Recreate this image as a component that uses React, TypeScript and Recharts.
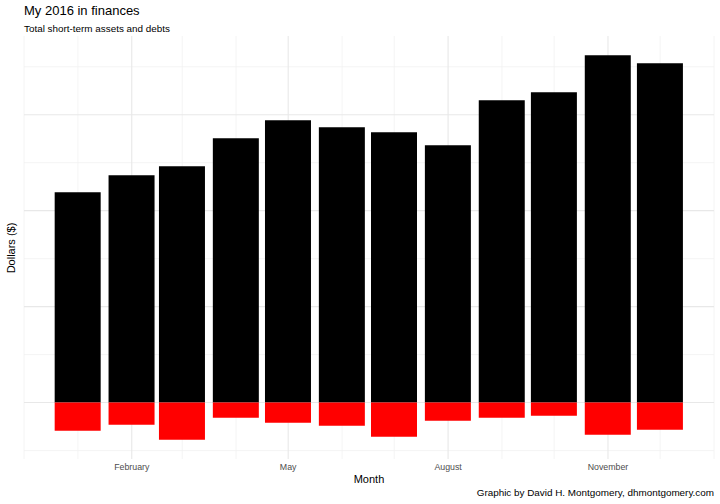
import {
  ComposedChart,
  Bar,
  XAxis,
  YAxis,
  CartesianGrid,
} from "recharts"

// day of year (2016) for the first of each month, Jan..Dec
const monthDays = [0, 31, 60, 91, 121, 152, 182, 213, 244, 274, 305, 335]
const assets = [21930, 23700, 24635, 27550, 29430, 28700, 28180, 26820, 31510, 32340, 36200, 35365]
const debts = [-2940, -2310, -3875, -1585, -2105, -2415, -3560, -1895, -1585, -1375, -3355, -2835]

const tickDays = [31, 121, 213, 305]
const tickLabels = ["February", "May", "August", "November"]

// minor grid: first of every other month (Dec 2015 .. Jan 2017)
const minorDays = [-31, 0, 60, 91, 152, 182, 244, 274, 335, 366]
const majorDollars = [0, 10000, 20000, 30000]
const minorDollars = [-5000, 5000, 15000, 25000, 35000]

const data = monthDays.map((day, i) => ({
  day,
  assets: assets[i],
  debts: debts[i],
}))

const font = "'Liberation Sans', Arial, Helvetica, sans-serif"

export default function App() {
  return (
    <div
      style={{
        position: "absolute",
        left: 0,
        top: 0,
        width: 720,
        height: 504,
        background: "#fff",
        fontFamily: font,
      }}
    >
      <ComposedChart
        width={720}
        height={504}
        data={data}
        stackOffset="sign"
        margin={{ top: 36, right: 6, left: 24, bottom: 15 }}
      >
        <CartesianGrid
          stroke="#f1f1f1"
          strokeWidth={0.8}
          horizontalValues={minorDollars}
          verticalValues={minorDays}
        />
        <CartesianGrid
          stroke="#e8e8e8"
          strokeWidth={1.1}
          horizontalValues={majorDollars}
          verticalValues={tickDays}
        />
        <XAxis
          dataKey="day"
          type="number"
          domain={[-31, 366]}
          ticks={tickDays}
          tickFormatter={(v: number) => tickLabels[tickDays.indexOf(v)]}
          axisLine={false}
          tickLine={false}
          tickSize={0}
          tickMargin={5}
          height={30}
          tick={{ fontSize: 8.8, fill: "#4d4d4d", fontFamily: font }}
          allowDataOverflow
        />
        <YAxis type="number" domain={[-5880, 38200]} hide allowDataOverflow />
        <Bar
          dataKey="assets"
          stackId="a"
          fill="#000000"
          barSize={46}
          isAnimationActive={false}
        />
        <Bar
          dataKey="debts"
          stackId="a"
          fill="#ff0000"
          barSize={46}
          isAnimationActive={false}
        />
      </ComposedChart>

      <svg
        width={720}
        height={504}
        style={{ position: "absolute", left: 0, top: 0, pointerEvents: "none" }}
        fontFamily={font}
      >
        <text x={24} y={15} fontSize={13} fill="#000">
          My 2016 in finances
        </text>
        <text x={24} y={32} fontSize={9.9} fill="#000">
          Total short-term assets and debts
        </text>
        <text x={369} y={483} fontSize={11} fill="#000" textAnchor="middle">
          Month
        </text>
        <text
          x={14.5}
          y={248}
          fontSize={11}
          fill="#000"
          textAnchor="middle"
          transform="rotate(-90 14.5 248)"
        >
          Dollars ($)
        </text>
        <text x={714} y={496} fontSize={9.9} fill="#000" textAnchor="end">
          Graphic by David H. Montgomery, dhmontgomery.com
        </text>
      </svg>
    </div>
  )
}
